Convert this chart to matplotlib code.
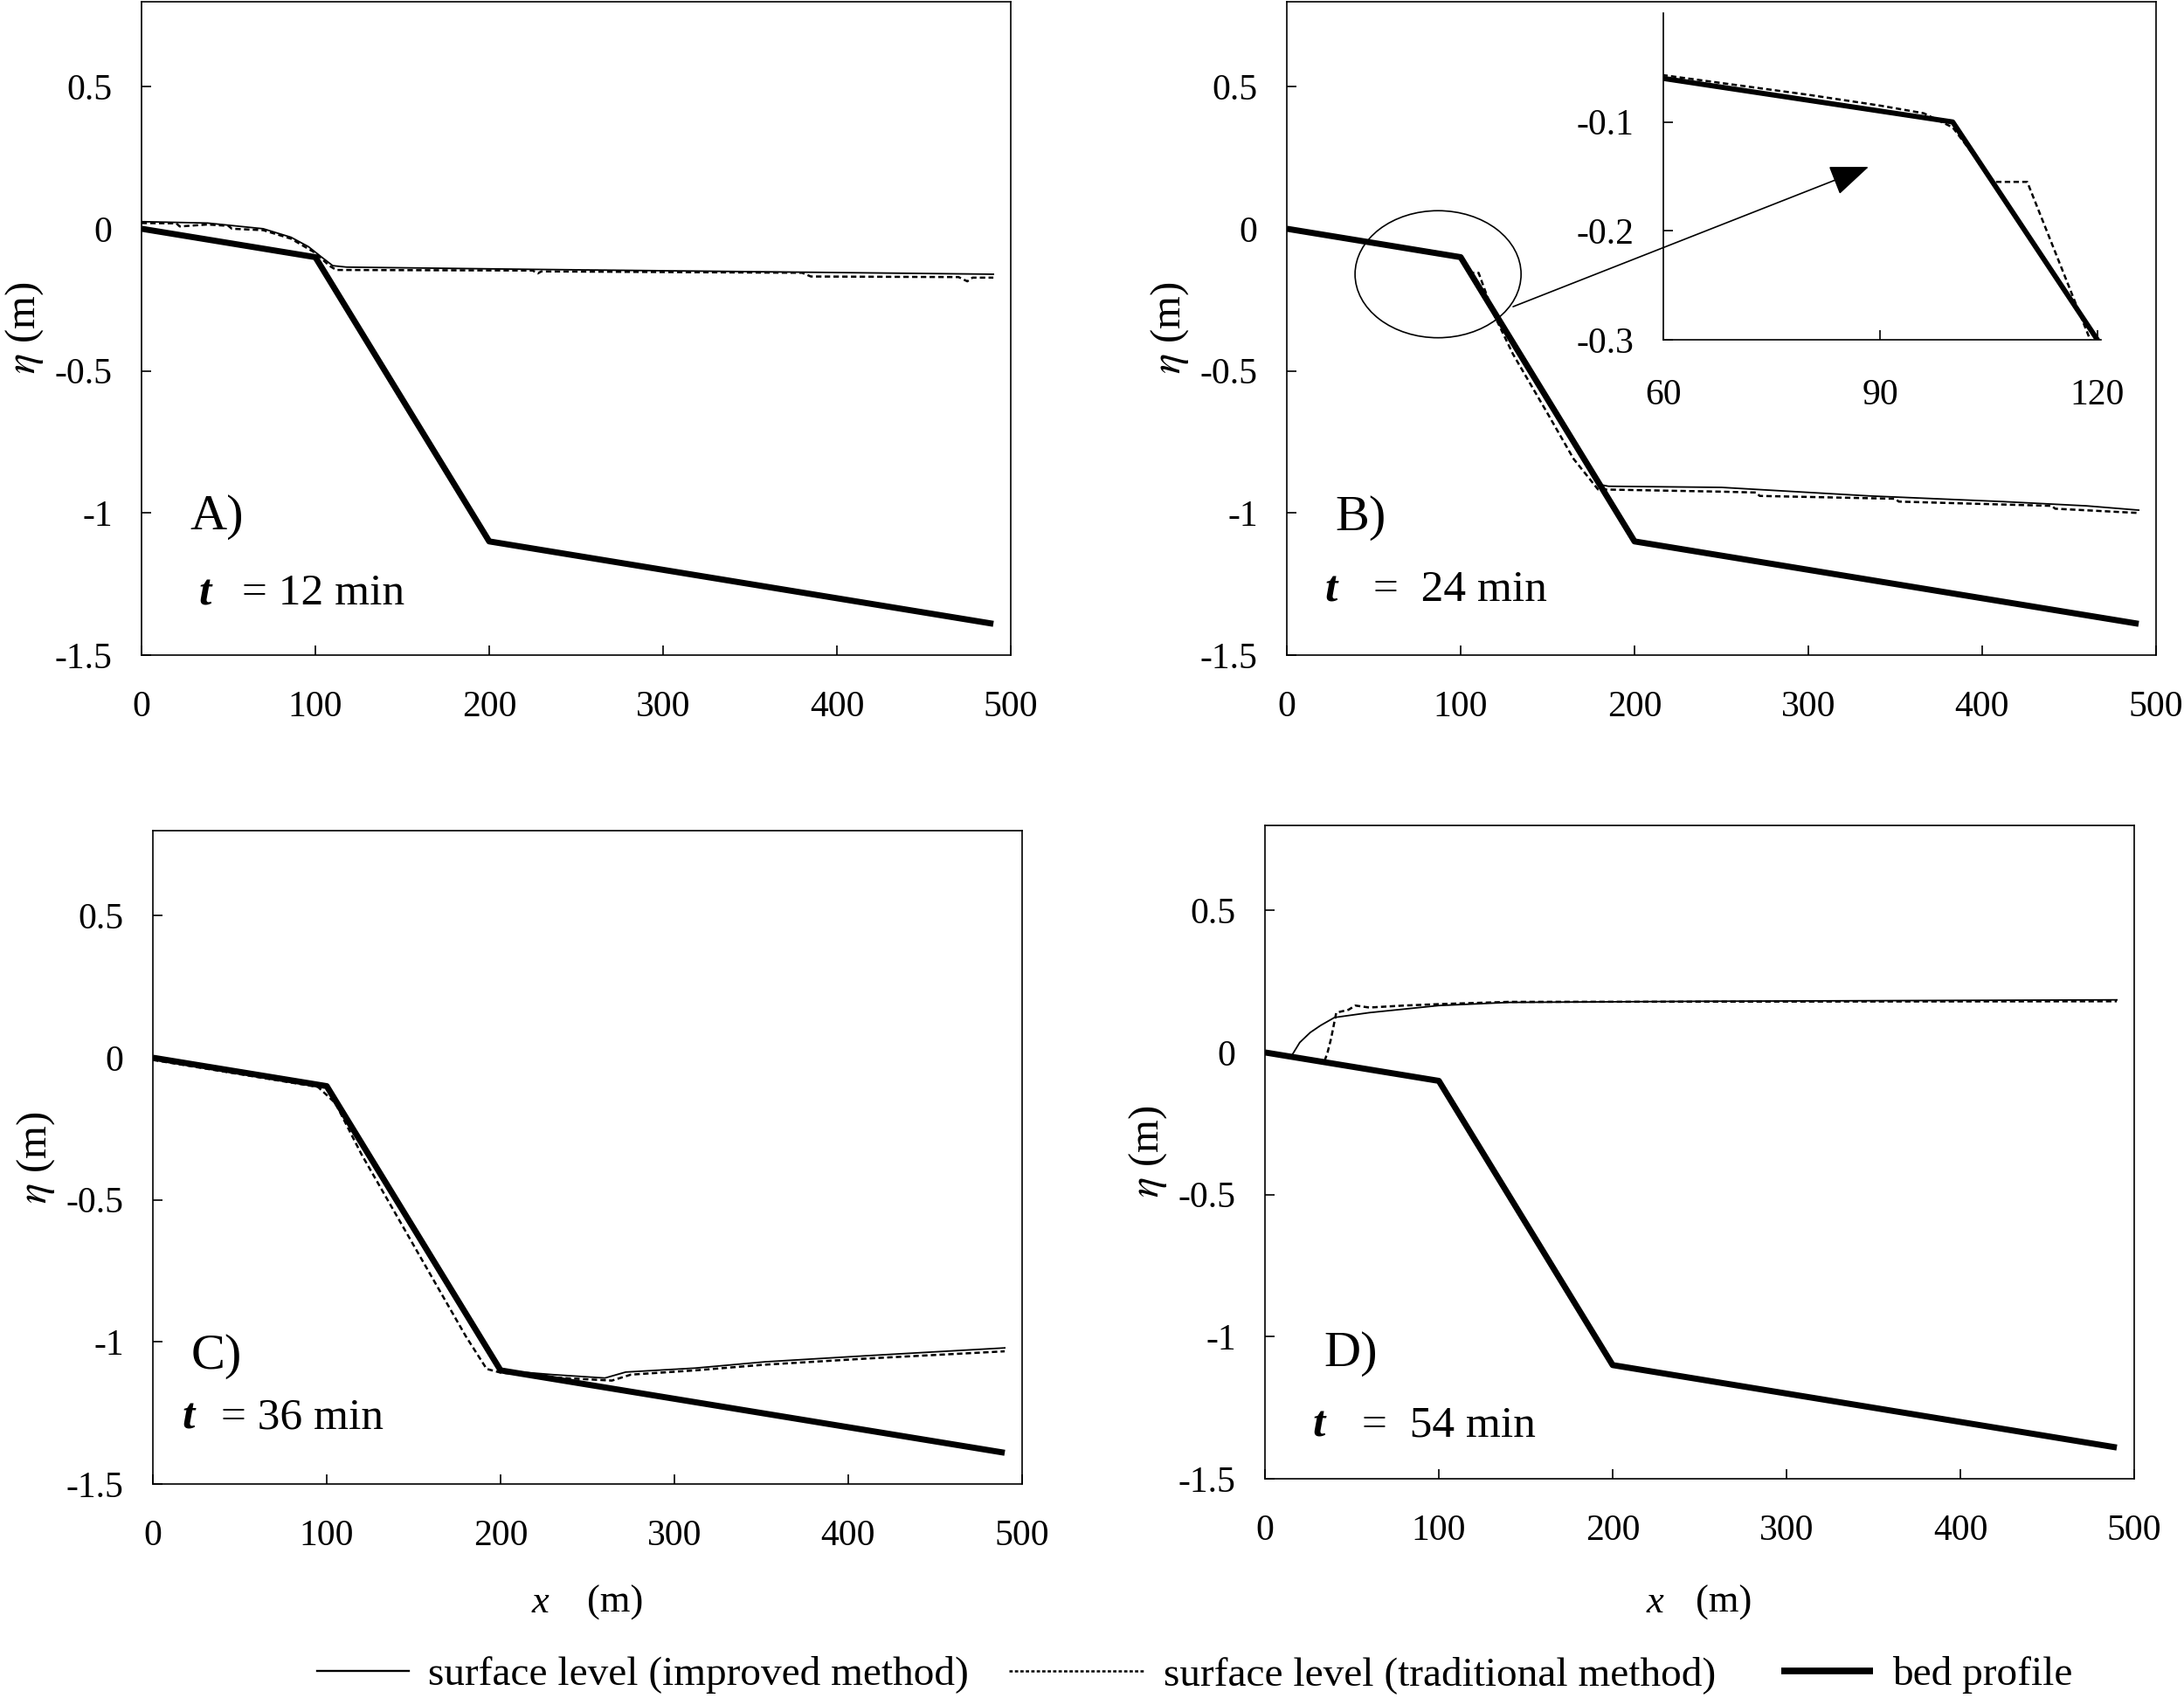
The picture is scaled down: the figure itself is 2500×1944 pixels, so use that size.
import matplotlib
matplotlib.use("Agg")
import matplotlib.pyplot as plt
from matplotlib.lines import Line2D
from matplotlib.patches import Ellipse, FancyArrowPatch

plt.rcParams["font.family"] = "Liberation Serif"
plt.rcParams["mathtext.fontset"] = "stix"

# bed profile (same for all panels)
bed_x = [0, 100, 200, 490]
bed_y = [0.0, -0.1, -1.1, -1.39]

# A) t = 12 min
imp_a_x = [0, 38, 70, 86, 96, 103, 110, 118, 226, 383, 490]
imp_a_y = [0.025, 0.02, 0.0, -0.03, -0.063, -0.097, -0.13, -0.135, -0.143, -0.153, -0.16]
trad_a_x = [0, 20, 22, 38, 50, 52, 70, 86, 100, 108, 112, 225, 228, 230, 380, 385, 470, 475, 478, 490]
trad_a_y = [0.02, 0.019, 0.008, 0.015, 0.01, 0.0, -0.005, -0.035, -0.085, -0.13, -0.145,
            -0.147, -0.157, -0.15, -0.155, -0.168, -0.17, -0.185, -0.172, -0.172]

# B) t = 24 min
imp_b_x = [0, 60, 100, 120, 180, 185, 250, 335, 412, 460, 490]
imp_b_y = [-0.002, -0.061, -0.101, -0.301, -0.9, -0.906, -0.91, -0.94, -0.96, -0.975, -0.99]
trad_b_x = [0, 30, 60, 70, 80, 90, 96, 100, 105.7, 110.3, 113, 116, 119, 130, 150, 165, 179,
            250, 270, 272, 350, 352, 440, 442, 490]
trad_b_y = [-0.004, -0.03, -0.057, -0.066, -0.075, -0.085, -0.092, -0.105, -0.155, -0.155,
            -0.2, -0.25, -0.3, -0.44, -0.65, -0.81, -0.917, -0.925, -0.928, -0.94, -0.95,
            -0.96, -0.975, -0.985, -1.0]

# C) t = 36 min
imp_c_x = [0, 100, 200, 230, 260, 272, 312, 352, 412, 490]
imp_c_y = [-0.003, -0.103, -1.1, -1.115, -1.127, -1.106, -1.092, -1.07, -1.048, -1.021]
trad_c_x = [0, 50, 95, 105, 120, 150, 180, 192, 200, 230, 264, 275, 312, 352, 412, 490]
trad_c_y = [-0.008, -0.058, -0.103, -0.16, -0.34, -0.66, -0.98, -1.095, -1.108, -1.125,
            -1.136, -1.115, -1.1, -1.08, -1.058, -1.033]

# D) t = 54 min
imp_d_x = [15, 20, 26, 32, 40, 60, 100, 140, 250, 490]
imp_d_y = [-0.015, 0.035, 0.07, 0.095, 0.123, 0.14, 0.165, 0.176, 0.18, 0.185]
trad_d_x = [20, 34, 36, 38, 41, 48, 52, 60, 80, 100, 140, 490]
trad_d_y = [-0.022, -0.035, 0.0, 0.048, 0.14, 0.15, 0.165, 0.158, 0.165, 0.17, 0.178, 0.18]

panel_tags = ["A)", "B)", "C)", "D)"]
panel_times = ["= 12 min", "=  24 min", "= 36 min", "=  54 min"]
x_ticks = [0, 100, 200, 300, 400, 500]
y_ticks = [0.5, 0, -0.5, -1, -1.5]
y_ticklabels = ["0.5", "0", "-0.5", "-1", "-1.5"]
inset_xticks = [60, 90, 120]
inset_yticks = [-0.1, -0.2, -0.3]
inset_yticklabels = ["-0.1", "-0.2", "-0.3"]
legend_labels = ["surface level (improved method)", "surface level (traditional method)", "bed profile"]

DASH = (0, (2.5, 1.5))
SURF_LW = 1.3
DASH_LW = 1.8
BED_LW = 5.0

fig = plt.figure(figsize=(25, 19.44), dpi=100)

rects = [
    [0.0648, 0.6142, 0.398, 0.385],
    [0.5892, 0.6142, 0.398, 0.385],
    [0.0700, 0.1260, 0.398, 0.385],
    [0.5792, 0.1291, 0.398, 0.385],
]
series = [
    (imp_a_x, imp_a_y, trad_a_x, trad_a_y),
    (imp_b_x, imp_b_y, trad_b_x, trad_b_y),
    (imp_c_x, imp_c_y, trad_c_x, trad_c_y),
    (imp_d_x, imp_d_y, trad_d_x, trad_d_y),
]
# text positions (data coords): tag, "t", "= .. min"
tag_pos = [(28, -1.058), (28, -1.06), (22, -1.094), (33.7, -1.103)]
t_pos = [(32.7, -1.323), (22, -1.31), (17, -1.305), (27.6, -1.35)]
eq_x = [57.8, 50, 39, 56]

axes = []
for i, rect in enumerate(rects):
    ax = fig.add_axes(rect)
    ix, iy, tx, ty = series[i]
    ax.plot(bed_x, bed_y, color="black", lw=BED_LW, solid_capstyle="butt", zorder=2)
    ax.plot(ix, iy, color="black", lw=SURF_LW, zorder=3)
    ax.plot(tx, ty, color="black", lw=DASH_LW, linestyle=DASH, zorder=3)

    ax.set_xlim(0, 500)
    ax.set_ylim(-1.5, 0.8)
    ax.set_xticks(x_ticks)
    ax.set_xticklabels([str(v) for v in x_ticks])
    ax.set_yticks(y_ticks)
    ax.set_yticklabels(y_ticklabels)
    ax.tick_params(axis="both", direction="in", length=8, width=1.2, labelsize=30)
    ax.tick_params(axis="x", pad=29)
    ax.tick_params(axis="y", pad=24)
    for sp in ax.spines.values():
        sp.set_linewidth(1.2)

    ax.set_ylabel(r"$\eta$ (m)", fontsize=35)
    ax.yaxis.set_label_coords(-0.111, 0.5)

    ax.text(*tag_pos[i], panel_tags[i], fontsize=42, va="baseline", ha="left")
    ax.text(*t_pos[i], "t", fontsize=37, fontweight="bold", fontstyle="italic",
            va="baseline", ha="left")
    ax.text(eq_x[i], t_pos[i][1], panel_times[i], fontsize=37, va="baseline", ha="left")
    axes.append(ax)

# x-axis labels under the bottom panels
for ax, (xx, xm, yy) in zip(axes[2:], [(0.436, 0.4995, -0.196), (0.439, 0.4955, -0.204)]):
    ax.text(xx, yy, "x", fontsize=32, fontstyle="italic", transform=ax.transAxes, va="baseline")
    ax.text(xm, yy, "(m)", fontsize=32, transform=ax.transAxes, va="baseline")

# zoom circle in panel B
ax_b = axes[1]
ax_b.add_patch(Ellipse((87, -0.16), 95.5, 0.447, fill=False, lw=1.2, color="black", zorder=4))

# inset of panel B
ax_in = fig.add_axes([0.7616, 0.7999, 0.2004, 0.1924])
ax_in.set_facecolor("none")
ax_in.plot(bed_x, bed_y, color="black", lw=BED_LW * 0.85, solid_capstyle="butt", zorder=2)
ax_in.plot(imp_b_x, imp_b_y, color="black", lw=SURF_LW, zorder=3)
ax_in.plot(trad_b_x, trad_b_y, color="black", lw=DASH_LW, linestyle=DASH, zorder=3)
ax_in.set_xlim(60, 120.5)
ax_in.set_ylim(-0.3, 0)
ax_in.set_xticks(inset_xticks)
ax_in.set_xticklabels([str(v) for v in inset_xticks])
ax_in.set_yticks(inset_yticks)
ax_in.set_yticklabels(inset_yticklabels)
ax_in.spines["top"].set_visible(False)
ax_in.spines["right"].set_visible(False)
for sp in ("left", "bottom"):
    ax_in.spines[sp].set_linewidth(1.2)
ax_in.tick_params(axis="both", direction="in", length=8, width=1.2, labelsize=30)
ax_in.tick_params(axis="x", pad=32)
ax_in.tick_params(axis="y", pad=24)

arrow = FancyArrowPatch((0.6928, 0.8194), (0.8556, 0.9017), transform=fig.transFigure,
                        arrowstyle="-|>,head_length=2.8,head_width=1.1", mutation_scale=10,
                        color="black", lw=1.2, shrinkA=0, shrinkB=0)
fig.add_artist(arrow)

# legend, one entry per box so the handle lengths can differ
handles = [
    Line2D([], [], color="black", lw=SURF_LW * 1.3),
    Line2D([], [], color="black", lw=DASH_LW, linestyle=(0, (1.5, 1.0))),
    Line2D([], [], color="black", lw=BED_LW * 1.1, solid_capstyle="butt"),
]
leg_x = [0.1452, 0.462, 0.8156]
leg_len = [2.23, 3.3, 2.23]
for h, lab, lx, ll in zip(handles, legend_labels, leg_x, leg_len):
    fig.legend([h], [lab], loc="center left", bbox_to_anchor=(lx, 0.0134), frameon=False,
               fontsize=34, handlelength=ll, handletextpad=0.45, borderpad=0, borderaxespad=0)

fig.savefig("out.png", dpi=100)
